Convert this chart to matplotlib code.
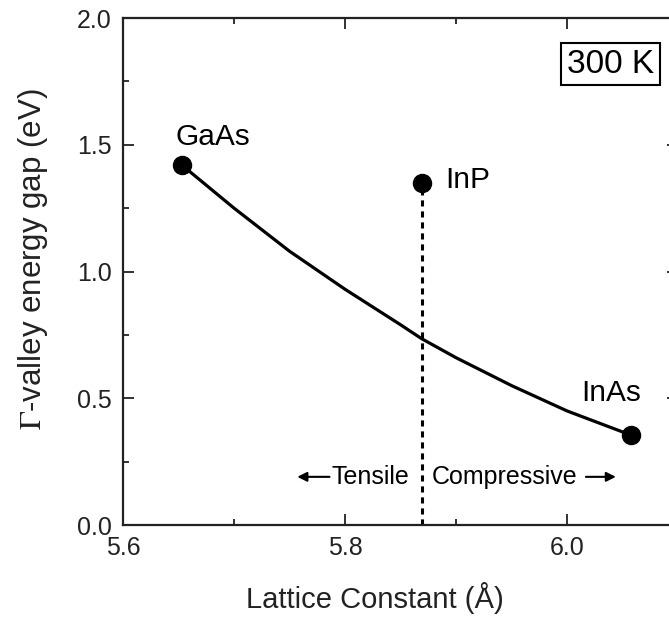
import matplotlib
matplotlib.use('Agg')
import matplotlib.pyplot as plt
from matplotlib.ticker import MultipleLocator, FormatStrFormatter

plt.rcParams['font.family'] = ['Liberation Sans', 'DejaVu Sans']
plt.rcParams['mathtext.fontset'] = 'stix'

# Material end points (lattice constant in A, gap in eV)
materials = ['GaAs', 'InP', 'InAs']
lattice = [5.653, 5.869, 6.058]
gap = [1.42, 1.35, 0.354]

# InGaAs curve
curve_a = [5.653, 5.70, 5.75, 5.80, 5.85, 5.869, 5.90, 5.95, 6.00, 6.058]
curve_eg = [1.42, 1.25, 1.08, 0.93, 0.79, 0.735, 0.66, 0.55, 0.45, 0.354]

fig = plt.figure(figsize=(6.69, 6.17), dpi=100)
ax = fig.add_axes([0.1839, 0.1491, 0.8296, 0.8217])

# curve and points
ax.plot(curve_a, curve_eg, color='black', lw=2.3, zorder=2)
ax.plot(lattice, gap, 'o', color='black', ms=13, zorder=3)

# InP dashed marker line
ax.plot([lattice[1], lattice[1]], [0, gap[1]], color='black', lw=2.2,
        ls=(0, (2, 1.6)), zorder=2)

# labels of materials
ax.text(5.681, 1.53, materials[0], fontsize=21.5, ha='center', va='center')
ax.text(5.911, 1.36, materials[1], fontsize=21.5, ha='center', va='center')
ax.text(6.04, 0.52, materials[2], fontsize=21.5, ha='center', va='center')

# tensile / compressive
ax.text(5.823, 0.19, 'Tensile', fontsize=18, ha='center', va='center')
ax.text(5.944, 0.19, 'Compressive', fontsize=18, ha='center', va='center')
ax.annotate('', xy=(5.757, 0.19), xytext=(5.786, 0.19),
            arrowprops=dict(arrowstyle='-|>', color='black', lw=1.5,
                            mutation_scale=14, shrinkA=0, shrinkB=0))
ax.annotate('', xy=(6.044, 0.19), xytext=(6.017, 0.19),
            arrowprops=dict(arrowstyle='-|>', color='black', lw=1.5,
                            mutation_scale=14, shrinkA=0, shrinkB=0))

# temperature box
ax.text(6.039, 1.818, '300 K', fontsize=24, ha='center', va='center',
        bbox=dict(boxstyle='square,pad=0.17', fc='white', ec='black', lw=1.5))

ax.set_xlim(5.6, 6.1)
ax.set_ylim(0, 2.0)
ax.xaxis.set_major_locator(MultipleLocator(0.2))
ax.xaxis.set_minor_locator(MultipleLocator(0.1))
ax.yaxis.set_major_locator(MultipleLocator(0.5))
ax.yaxis.set_minor_locator(MultipleLocator(0.25))
ax.xaxis.set_major_formatter(FormatStrFormatter('%.1f'))
ax.yaxis.set_major_formatter(FormatStrFormatter('%.1f'))
ax.tick_params(which='both', direction='in', top=True, right=True,
               labelsize=18, width=1.3, colors='#222222', labelcolor='#222222')
ax.tick_params(which='major', length=8, pad=8)
ax.tick_params(which='minor', length=4.5)
for s in ax.spines.values():
    s.set_linewidth(1.6)
    s.set_color('#222222')

ax.set_xlabel('Lattice Constant (Å)', fontsize=21, color='#222222', va='center')
ax.xaxis.set_label_coords(0.454, -0.144)
ax.set_ylabel(r'$\Gamma$-valley energy gap (eV)', fontsize=22.5, color='#222222',
              va='center')
ax.yaxis.set_label_coords(-0.163, 0.525)

fig.savefig('out.png', dpi=100)
